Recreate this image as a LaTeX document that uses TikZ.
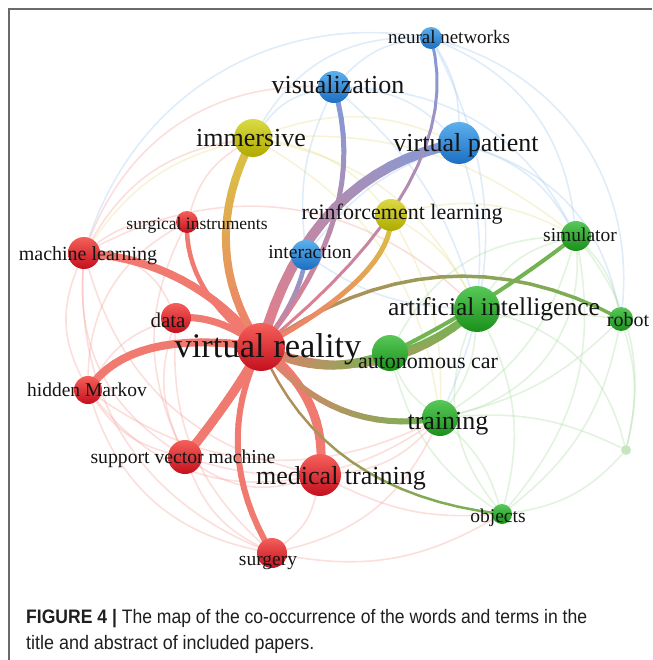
\documentclass[tikz,border=0pt]{standalone}
\usepackage{fontspec}
\usepackage{graphicx}
\setmainfont{Liberation Serif}
\newfontfamily\capfont{Liberation Sans}
\usetikzlibrary{calc}
\pgfdeclarelayer{faintl}
\pgfdeclarelayer{strongl}
\pgfsetlayers{faintl,strongl,main}

\definecolor{rT}{HTML}{F5605A}\definecolor{rB}{HTML}{C40F1E}
\definecolor{bT}{HTML}{5CB0EC}\definecolor{bB}{HTML}{1C6EC2}
\definecolor{yT}{HTML}{DADA44}\definecolor{yB}{HTML}{AFAA00}
\definecolor{gT}{HTML}{58C858}\definecolor{gB}{HTML}{1A901A}
\definecolor{eR}{HTML}{F07A70}
\definecolor{eRp}{HTML}{E87C86}
\definecolor{eB}{HTML}{7E9CDA}
\definecolor{eY}{HTML}{D8C640}
\definecolor{eG}{HTML}{72B452}
\definecolor{eBr}{HTML}{C0845E}
\definecolor{fR}{HTML}{F4A29C}
\definecolor{fB}{HTML}{A4C8EE}
\definecolor{fY}{HTML}{E6DE8C}
\definecolor{fG}{HTML}{ACDCA4}
\definecolor{frame}{HTML}{6A6A6A}

\newcommand{\kwfs}[1]{\fontsize{#1}{#1}\selectfont}

% gradient quadratic edge: from, to, curve midpoint, width, colour at from, colour at to
\newcommand{\gedge}[6]{%
  \coordinate (gc) at ($2*(#3) - 0.5*(#1.center) - 0.5*(#2.center)$);
  \foreach \i in {1,...,16}{%
    \pgfmathsetmacro{\ta}{(\i-1)/16}%
    \pgfmathsetmacro{\tb}{\i/16}%
    \pgfmathtruncatemacro{\pc}{100-100*(\i-0.5)/16}%
    \draw[line width=#4, line cap=round, color=#5!\pc!#6]
      ($($(#1.center)!\ta!(gc)$)!\ta!($(gc)!\ta!(#2.center)$)$) --
      ($($(#1.center)!\tb!(gc)$)!\tb!($(gc)!\tb!(#2.center)$)$);
  }%
}

\tikzset{
  kw/.style={circle, inner sep=0pt, draw=none},
  kred/.style={kw, top color=rT, bottom color=rB},
  kblue/.style={kw, top color=bT, bottom color=bB},
  kyel/.style={kw, top color=yT, bottom color=yB},
  kgreen/.style={kw, top color=gT, bottom color=gB},
  lab/.style={inner sep=0pt, font=\kwfs{#1}, text height={0.8*#1pt}, text depth={0.1*#1pt}, text=black!92},
  fr/.style={draw=fR, line width=1.6pt, opacity=0.35},
  fb/.style={draw=fB, line width=1.6pt, opacity=0.35},
  fy/.style={draw=fY, line width=1.6pt, opacity=0.35},
  fg/.style={draw=fG, line width=1.6pt, opacity=0.35},
}

\begin{document}
\begin{tikzpicture}[x=1pt,y=-1pt]
\useasboundingbox (0,0) rectangle (652,660);

% frame
\draw[frame, line width=1.6pt] (8,9) -- (652,9);
\draw[frame, line width=1.2pt] (9,9) -- (9,660);

% keyword circles
\node[kblue,  minimum size=22pt] (nn)   at (431,38)  {};
\node[kblue,  minimum size=32pt] (vis)  at (334,87)  {};
\node[kyel,   minimum size=38pt] (imm)  at (253,138) {};
\node[kblue,  minimum size=42pt] (vp)   at (459,143) {};
\node[kyel,   minimum size=32pt] (rl)   at (391,215) {};
\node[kred,   minimum size=22pt] (si)   at (187,222) {};
\node[kred,   minimum size=32pt] (ml)   at (84,253)  {};
\node[kblue,  minimum size=30pt] (int)  at (306,255) {};
\node[kgreen, minimum size=30pt] (sim)  at (576,236) {};
\node[kgreen, minimum size=46pt] (ai)   at (477,309) {};
\node[kgreen, minimum size=24pt] (rob)  at (621,319) {};
\node[kred,   minimum size=30pt] (data) at (176,318) {};
\node[kred,   minimum size=48pt] (vr)   at (261,347) {};
\node[kgreen, minimum size=36pt] (ac)   at (390,353) {};
\node[kred,   minimum size=28pt] (hm)   at (88,390)  {};
\node[kgreen, minimum size=36pt] (tr)   at (440,418) {};
\node[kred,   minimum size=34pt] (svm)  at (185,457) {};
\node[kred,   minimum size=42pt] (mt)   at (320,475) {};
\node[kgreen, minimum size=20pt] (obj)  at (502,514) {};
\node[kred,   minimum size=30pt] (sur)  at (272,553) {};
\node[kw, fill=fG, opacity=0.7, minimum size=10pt] (fnode) at (626,450) {};

% faint background links
\begin{pgfonlayer}{faintl}
\draw[fr] (ml) to[bend right=25] (hm);
\draw[fr] (ml) to[bend right=30] (svm);
\draw[fr] (ml) to[bend right=35] (sur);
\draw[fr] (ml) to[bend right=30] (mt);
\draw[fr] (hm) to[bend right=20] (svm);
\draw[fr] (hm) to[bend right=30] (sur);
\draw[fr] (hm) to[bend right=30] (mt);
\draw[fr] (svm) to[bend right=20] (sur);
\draw[fr] (svm) to[bend right=25] (mt);
\draw[fr] (data) to[bend right=20] (hm);
\draw[fr] (data) to[bend right=20] (svm);
\draw[fr] (data) to[bend right=25] (sur);
\draw[fr] (si) to[bend right=20] (ml);
\draw[fr] (si) to[bend right=30] (hm);
\draw[fr] (si) to[bend right=25] (svm);
\draw[fr] (sur) to[bend right=20] (mt);
\draw[fr] (sur) to[bend right=25] (tr);
\draw[fr] (sur) to[bend right=20] (obj);
\draw[fr] (mt) to[bend right=20] (tr);
\draw[fr] (mt) to[bend right=15] (obj);
\draw[fr] (svm) to[bend right=25] (tr);
\draw[fr] (hm) to[bend right=30] (tr);
\draw[fr] (ml) to[bend left=35] (ai);
\draw[fr] (ml) to[bend left=25] (imm);
\draw[fr] (ml) to[bend left=35] (vis);
\draw[fr] (ml) to[bend left=30] (data);
\draw[fr] (si) to[bend left=20] (imm);
\draw[fb] (vis) to[bend left=20] (vp);
\draw[fb] (vis) to[bend left=20] (nn);
\draw[fb] (vis) to[bend right=20] (imm);
\draw[fb] (vis) to[bend left=30] (sim);
\draw[fb] (vp) to[bend right=15] (nn);
\draw[fb] (vp) to[bend left=20] (sim);
\draw[fb] (vp) to[bend left=10] (ai);
\draw[fb] (vp) to[bend left=30] (rob);
\draw[fb] (nn) to[bend left=30] (sim);
\draw[fb] (nn) to[bend left=40] (rob);
\draw[fb] (nn) to[bend right=30] (imm);
\draw[fb] (nn) to[bend right=40] (ml);
\draw[fb] (vis) to[bend left=15] (ai);
\draw[fb] (int) to[bend left=15] (vp);
\draw[fb] (int) to[bend right=15] (ai);
\draw[fb] (vis) to[bend right=15] (int);
\draw[fb] (nn) to[bend left=25] (tr);
\draw[fy] (imm) to[bend left=20] (rl);
\draw[fy] (imm) to[bend right=20] (ml);
\draw[fy] (imm) to[bend left=25] (ai);
\draw[fy] (imm) to[bend left=20] (vp);
\draw[fy] (rl) to[bend left=15] (ai);
\draw[fy] (rl) to[bend left=20] (sim);
\draw[fy] (rl) to[bend left=15] (tr);
\draw[fy] (imm) to[bend left=25] (tr);
\draw[fy] (imm) to[bend left=20] (sim);
\draw[fg] (sim) to[bend left=15] (rob);
\draw[fg] (sim) to[bend left=20] (tr);
\draw[fg] (sim) to[bend left=25] (obj);
\draw[fg] (rob) to[bend left=15] (tr);
\draw[fg] (rob) to[bend left=15] (fnode);
\draw[fg] (fnode) to[bend left=20] (obj);
\draw[fg] (fnode) to[bend right=15] (tr);
\draw[fg] (sim) to[bend left=25] (fnode);
\draw[fg] (ai) to[bend left=15] (tr);
\draw[fg] (ai) to[bend left=20] (obj);
\draw[fg] (tr) to[bend left=15] (obj);
\draw[fg] (ac) to[bend right=15] (tr);
\draw[fg] (ac) to[bend right=20] (obj);
\draw[fg] (rob) to[bend left=20] (obj);
\draw[fg] (ai) to[bend left=20] (sim);
\draw[fg] (ac) to[bend left=15] (rob);
\draw[fg] (ai) to[bend left=30] (fnode);
\draw[fg] (tr) to[bend right=40] (sim);
\draw[fg] (ac) to[bend left=30] (sim);
\draw[fg] (obj) to[bend left=30] (ai);
\end{pgfonlayer}

% main links
\begin{pgfonlayer}{strongl}
\gedge{vr}{ml}{182,280}{8pt}{eR}{eR}
\gedge{vr}{si}{204,288}{4.5pt}{eR}{eR}
\gedge{vr}{data}{218,323}{7pt}{eR}{eR}
\gedge{vr}{hm}{152,348}{8pt}{eR}{eR}
\gedge{vr}{svm}{228,400}{9pt}{eR}{eR}
\gedge{vr}{mt}{310,405}{9pt}{eR}{eR}
\gedge{vr}{sur}{238,450}{6pt}{eR}{eR}
\gedge{vr}{obj}{352,462}{2.5pt}{eBr}{eG}
\gedge{vr}{tr}{342,410}{6pt}{eR}{eG}
\gedge{ac}{ai}{430,340}{6pt}{eG}{eG}
\gedge{sim}{ac}{485,300}{4pt}{eG}{eG}
\gedge{vr}{ai}{375,362}{7pt}{eR}{eG}
\gedge{vr}{ac}{325,365}{9pt}{eR}{eG}
\gedge{vr}{rob}{440,277}{3.5pt}{eBr}{eG}
\gedge{vr}{imm}{226,245}{8pt}{eR}{eY}
\gedge{vr}{rl}{360,278}{5pt}{eR}{eY}
\gedge{vr}{vis}{335,215}{5pt}{eRp}{eB}
\gedge{vr}{vp}{335,208}{10pt}{eRp}{eB}
\gedge{vr}{nn}{408,185}{3pt}{eRp}{eB}
\gedge{vr}{int}{292,300}{4.5pt}{eRp}{eB}
\end{pgfonlayer}

% labels
\node[lab=19]   (nn-l)   at (449,37)  {neural networks};
\node[lab=26]   (vis-l)  at (338,84)  {visualization};
\node[lab=26]   (imm-l)  at (251,137) {immersive};
\node[lab=26]   (vp-l)   at (466,142) {virtual patient};
\node[lab=22]   (rl-l)   at (402,212) {reinforcement learning};
\node[lab=17.5] (si-l)   at (197,223) {surgical instruments};
\node[lab=20]   (ml-l)   at (88,253)  {machine learning};
\node[lab=19.5] (int-l)  at (310,252) {interaction};
\node[lab=19.5] (sim-l)  at (580,235) {simulator};
\node[lab=25.5] (ai-l)   at (494,307) {artificial intelligence};
\node[lab=20]   (rob-l)  at (628,319) {robot};
\node[lab=21]   (data-l) at (168,320) {data};
\node[lab=34.5] (vr-l)   at (268,345) {virtual reality};
\node[lab=22]   (ac-l)   at (428,361) {autonomous car};
\node[lab=19.5] (hm-l)   at (87,390)  {hidden Markov};
\node[lab=26]   (tr-l)   at (448,420) {training};
\node[lab=19.7] (svm-l)  at (183,457) {support vector machine};
\node[lab=26]   (mt-l)   at (341,475) {medical training};
\node[lab=19.5] (obj-l)  at (498,516) {objects};
\node[lab=19.5] (sur-l)  at (268,559) {surgery};

% caption
\node[anchor=base west, inner sep=0pt, font=\capfont\kwfs{19.5}, text=black!88] (cap1) at (26,623)
  {\scalebox{0.9}[1]{\textbf{FIGURE 4 |} The map of the co-occurrence of the words and terms in the}};
\node[anchor=base west, inner sep=0pt, font=\capfont\kwfs{19.5}, text=black!88] (cap2) at (26,649)
  {\scalebox{0.92}[1]{title and abstract of included papers.}};
\end{tikzpicture}
\end{document}
